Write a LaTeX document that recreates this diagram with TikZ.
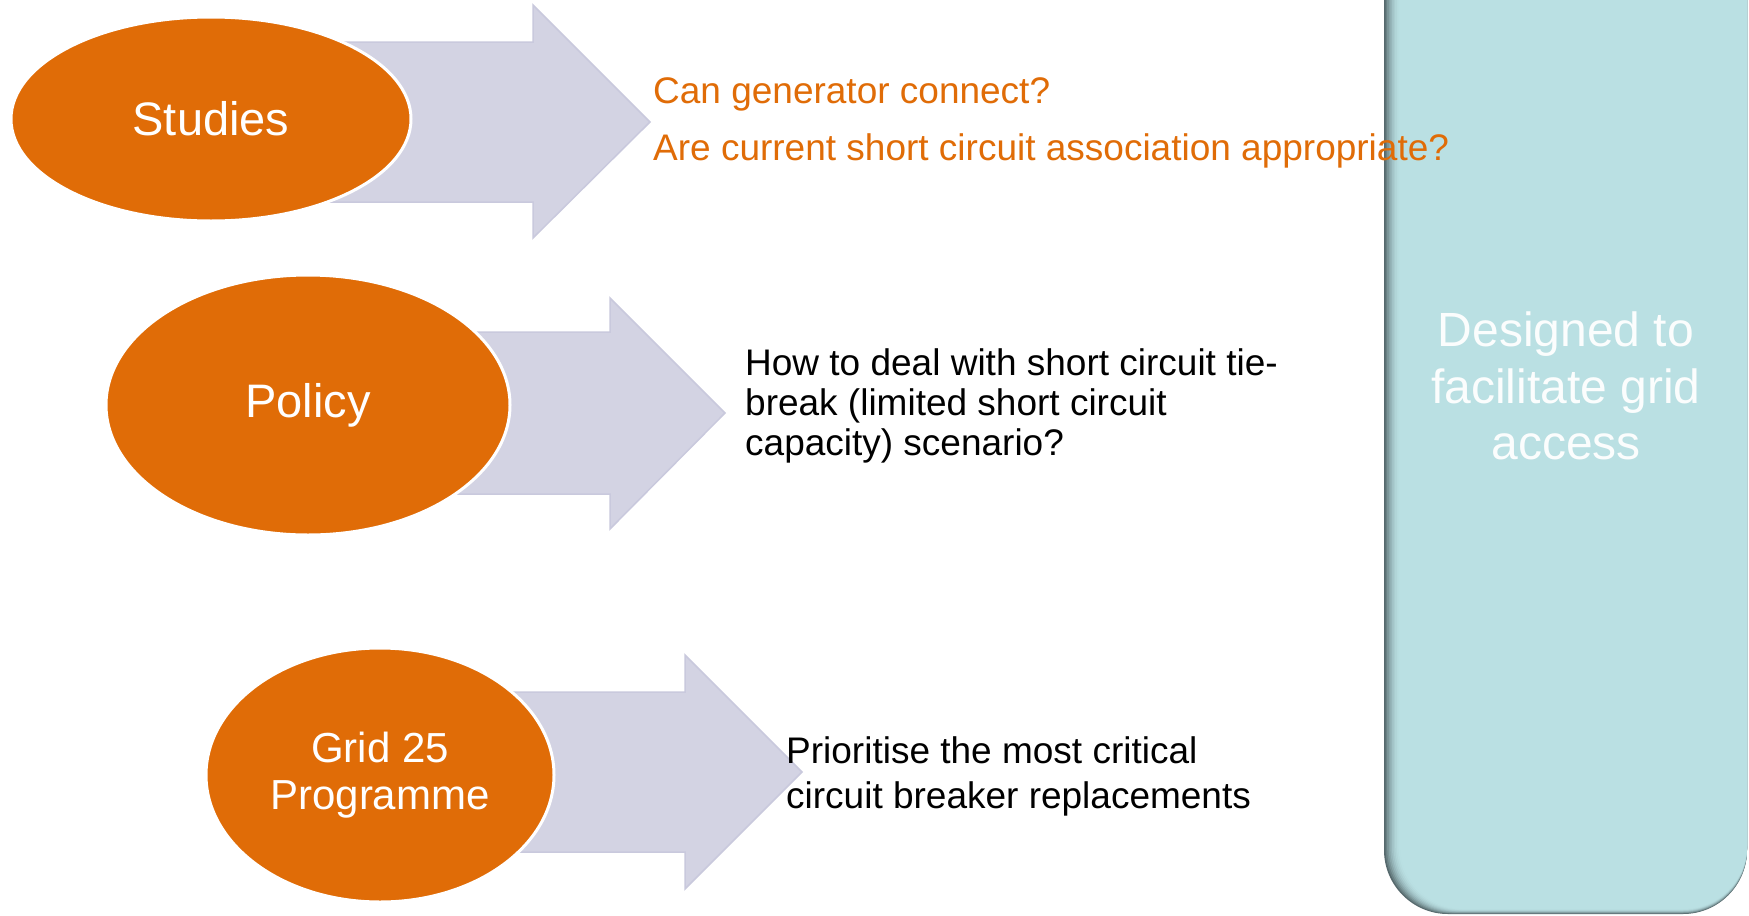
\documentclass[tikz,border=0pt]{standalone}
\usepackage{fontspec}
\setmainfont{Liberation Sans}
\usetikzlibrary{shapes.geometric}
\definecolor{orng}{HTML}{E06C07}
\definecolor{arrowfill}{HTML}{D3D3E3}
\definecolor{arrowline}{HTML}{C9C9DD}
\definecolor{panelcol}{HTML}{BAE0E3}
\definecolor{panelshadow}{HTML}{56696D}
\begin{document}
\begin{tikzpicture}[x=1pt,y=-1pt,
  blob/.style={ellipse, fill=orng, draw=white, line width=3pt, inner sep=0pt, text=white, align=center},
  blockarrow/.style={fill=arrowfill, draw=arrowline, line width=1.5pt, line join=miter},
  orangetext/.style={anchor=base west, inner sep=0pt, text=orng, font=\fontsize{37}{40}\selectfont},
  blacktext/.style={anchor=base west, inner sep=0pt, text=black, font=\fontsize{37}{40}\selectfont},
  paneltext/.style={anchor=base, inner sep=0pt, text=white!94!panelcol, font=\fontsize{48}{57}\selectfont}
]
\useasboundingbox (0,0) rectangle (1749,916);
\fill[white] (0,0) rectangle (1749,916);
% right panel with shadowed left edge
\foreach \i in {0,...,10} {
  \pgfmathsetmacro\p{100*(1-(1-\i/10)^2)}
  \fill[panelcol!\p!panelshadow, rounded corners=64pt] (1384+1.6*\i,-100) rectangle (1747,914-0.5*\i);
}
% block arrows
\draw[blockarrow] (330,42) -- (533,42) -- (533,5) -- (650,122) -- (533,238) -- (533,202) -- (330,202) -- cycle;
\draw[blockarrow] (440,332) -- (610,332) -- (610,298) -- (725,413) -- (610,529) -- (610,494) -- (440,494) -- cycle;
\draw[blockarrow] (500,692) -- (685,692) -- (685,655) -- (802,772) -- (685,889) -- (685,852) -- (500,852) -- cycle;
% ellipses
\node[blob, minimum width=400pt, minimum height=204pt, font=\fontsize{47}{52}\selectfont] (studies) at (211,119) {Studies};
\node[blob, minimum width=404pt, minimum height=260pt, font=\fontsize{47}{52}\selectfont] (policy) at (308,405) {Policy};
\node[blob, minimum width=348pt, minimum height=254pt, font=\fontsize{42}{47}\selectfont] (grid) at (380,775) {Grid 25\\Programme};
% texts
\node[orangetext] (q1) at (653,103) {Can generator connect?};
\node[orangetext] (q2) at (653,160) {Are current short circuit association appropriate?};
\node[blacktext] (p1) at (745,375) {How to deal with short circuit tie-};
\node[blacktext] (p2) at (745,415) {break (limited short circuit};
\node[blacktext] (p3) at (745,455) {capacity) scenario?};
\node[blacktext] (g1) at (786,763) {Prioritise the most critical};
\node[blacktext] (g2) at (786,808) {circuit breaker replacements};
\node[paneltext] (d1) at (1566,346) {Designed to};
\node[paneltext] (d2) at (1566,403) {facilitate grid};
\node[paneltext] (d3) at (1566,459) {access};
\end{tikzpicture}
\end{document}
